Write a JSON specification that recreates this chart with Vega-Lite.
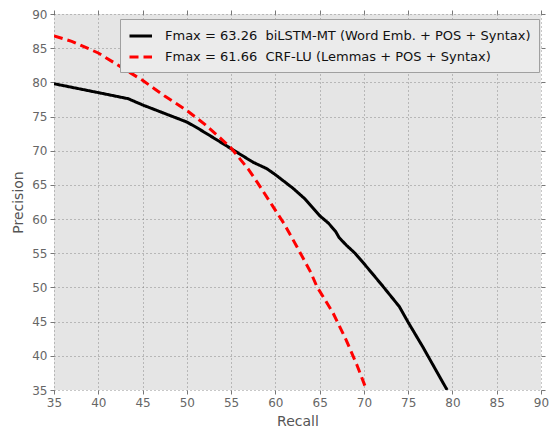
{
  "$schema": "https://vega.github.io/schema/vega-lite/v6.json",
  "width": 487,
  "height": 376,
  "autosize": "none",
  "padding": {"left": 54, "top": 14, "right": 10, "bottom": 38},
  "background": "white",
  "config": {
    "font": "DejaVu Sans",
    "view": {"fill": "#e5e5e5", "stroke": null},
    "axis": {
      "domain": false,
      "ticks": true,
      "tickColor": "#555555",
      "tickSize": 4,
      "tickWidth": 0.8,
      "labelColor": "#666666",
      "labelFontSize": 12,
      "labelFont": "DejaVu Sans",
      "titleColor": "#555555",
      "titleFontSize": 14,
      "titleFontWeight": "normal",
      "titleFont": "DejaVu Sans",
      "gridColor": "#666666",
      "gridDash": [1, 3],
      "gridWidth": 0.8,
      "gridOpacity": 0.9
    }
  },
  "data": {
    "values": [
      {"series": "Fmax = 63.26\u00a0\u00a0biLSTM-MT (Word Emb. + POS + Syntax)", "recall": 35.0, "precision": 79.8},
      {"series": "Fmax = 63.26\u00a0\u00a0biLSTM-MT (Word Emb. + POS + Syntax)", "recall": 40.0, "precision": 78.5},
      {"series": "Fmax = 63.26\u00a0\u00a0biLSTM-MT (Word Emb. + POS + Syntax)", "recall": 43.4, "precision": 77.6},
      {"series": "Fmax = 63.26\u00a0\u00a0biLSTM-MT (Word Emb. + POS + Syntax)", "recall": 45.0, "precision": 76.7},
      {"series": "Fmax = 63.26\u00a0\u00a0biLSTM-MT (Word Emb. + POS + Syntax)", "recall": 48.0, "precision": 75.2},
      {"series": "Fmax = 63.26\u00a0\u00a0biLSTM-MT (Word Emb. + POS + Syntax)", "recall": 50.0, "precision": 74.2},
      {"series": "Fmax = 63.26\u00a0\u00a0biLSTM-MT (Word Emb. + POS + Syntax)", "recall": 51.1, "precision": 73.4},
      {"series": "Fmax = 63.26\u00a0\u00a0biLSTM-MT (Word Emb. + POS + Syntax)", "recall": 53.0, "precision": 71.9},
      {"series": "Fmax = 63.26\u00a0\u00a0biLSTM-MT (Word Emb. + POS + Syntax)", "recall": 55.0, "precision": 70.3},
      {"series": "Fmax = 63.26\u00a0\u00a0biLSTM-MT (Word Emb. + POS + Syntax)", "recall": 57.5, "precision": 68.3},
      {"series": "Fmax = 63.26\u00a0\u00a0biLSTM-MT (Word Emb. + POS + Syntax)", "recall": 59.0, "precision": 67.4},
      {"series": "Fmax = 63.26\u00a0\u00a0biLSTM-MT (Word Emb. + POS + Syntax)", "recall": 60.0, "precision": 66.5},
      {"series": "Fmax = 63.26\u00a0\u00a0biLSTM-MT (Word Emb. + POS + Syntax)", "recall": 62.0, "precision": 64.5},
      {"series": "Fmax = 63.26\u00a0\u00a0biLSTM-MT (Word Emb. + POS + Syntax)", "recall": 63.3, "precision": 63.0},
      {"series": "Fmax = 63.26\u00a0\u00a0biLSTM-MT (Word Emb. + POS + Syntax)", "recall": 65.0, "precision": 60.5},
      {"series": "Fmax = 63.26\u00a0\u00a0biLSTM-MT (Word Emb. + POS + Syntax)", "recall": 66.0, "precision": 59.4},
      {"series": "Fmax = 63.26\u00a0\u00a0biLSTM-MT (Word Emb. + POS + Syntax)", "recall": 66.8, "precision": 58.2},
      {"series": "Fmax = 63.26\u00a0\u00a0biLSTM-MT (Word Emb. + POS + Syntax)", "recall": 67.2, "precision": 57.3},
      {"series": "Fmax = 63.26\u00a0\u00a0biLSTM-MT (Word Emb. + POS + Syntax)", "recall": 68.0, "precision": 56.2},
      {"series": "Fmax = 63.26\u00a0\u00a0biLSTM-MT (Word Emb. + POS + Syntax)", "recall": 69.0, "precision": 55.0},
      {"series": "Fmax = 63.26\u00a0\u00a0biLSTM-MT (Word Emb. + POS + Syntax)", "recall": 70.0, "precision": 53.5},
      {"series": "Fmax = 63.26\u00a0\u00a0biLSTM-MT (Word Emb. + POS + Syntax)", "recall": 72.0, "precision": 50.4},
      {"series": "Fmax = 63.26\u00a0\u00a0biLSTM-MT (Word Emb. + POS + Syntax)", "recall": 74.0, "precision": 47.2},
      {"series": "Fmax = 63.26\u00a0\u00a0biLSTM-MT (Word Emb. + POS + Syntax)", "recall": 75.0, "precision": 44.9},
      {"series": "Fmax = 63.26\u00a0\u00a0biLSTM-MT (Word Emb. + POS + Syntax)", "recall": 76.7, "precision": 41.2},
      {"series": "Fmax = 63.26\u00a0\u00a0biLSTM-MT (Word Emb. + POS + Syntax)", "recall": 78.0, "precision": 38.2},
      {"series": "Fmax = 63.26\u00a0\u00a0biLSTM-MT (Word Emb. + POS + Syntax)", "recall": 79.4, "precision": 35.0},
      {"series": "Fmax = 61.66\u00a0\u00a0CRF-LU (Lemmas + POS + Syntax)", "recall": 35.0, "precision": 86.8},
      {"series": "Fmax = 61.66\u00a0\u00a0CRF-LU (Lemmas + POS + Syntax)", "recall": 37.0, "precision": 86.0},
      {"series": "Fmax = 61.66\u00a0\u00a0CRF-LU (Lemmas + POS + Syntax)", "recall": 40.0, "precision": 84.3},
      {"series": "Fmax = 61.66\u00a0\u00a0CRF-LU (Lemmas + POS + Syntax)", "recall": 43.0, "precision": 81.9},
      {"series": "Fmax = 61.66\u00a0\u00a0CRF-LU (Lemmas + POS + Syntax)", "recall": 45.0, "precision": 80.3},
      {"series": "Fmax = 61.66\u00a0\u00a0CRF-LU (Lemmas + POS + Syntax)", "recall": 47.5, "precision": 78.0},
      {"series": "Fmax = 61.66\u00a0\u00a0CRF-LU (Lemmas + POS + Syntax)", "recall": 50.0, "precision": 75.9},
      {"series": "Fmax = 61.66\u00a0\u00a0CRF-LU (Lemmas + POS + Syntax)", "recall": 52.0, "precision": 73.9},
      {"series": "Fmax = 61.66\u00a0\u00a0CRF-LU (Lemmas + POS + Syntax)", "recall": 54.0, "precision": 71.6},
      {"series": "Fmax = 61.66\u00a0\u00a0CRF-LU (Lemmas + POS + Syntax)", "recall": 55.0, "precision": 70.4},
      {"series": "Fmax = 61.66\u00a0\u00a0CRF-LU (Lemmas + POS + Syntax)", "recall": 57.0, "precision": 67.2},
      {"series": "Fmax = 61.66\u00a0\u00a0CRF-LU (Lemmas + POS + Syntax)", "recall": 58.0, "precision": 65.3},
      {"series": "Fmax = 61.66\u00a0\u00a0CRF-LU (Lemmas + POS + Syntax)", "recall": 59.7, "precision": 61.9},
      {"series": "Fmax = 61.66\u00a0\u00a0CRF-LU (Lemmas + POS + Syntax)", "recall": 61.0, "precision": 59.3},
      {"series": "Fmax = 61.66\u00a0\u00a0CRF-LU (Lemmas + POS + Syntax)", "recall": 62.5, "precision": 55.8},
      {"series": "Fmax = 61.66\u00a0\u00a0CRF-LU (Lemmas + POS + Syntax)", "recall": 64.0, "precision": 52.2},
      {"series": "Fmax = 61.66\u00a0\u00a0CRF-LU (Lemmas + POS + Syntax)", "recall": 64.7, "precision": 50.1},
      {"series": "Fmax = 61.66\u00a0\u00a0CRF-LU (Lemmas + POS + Syntax)", "recall": 66.5, "precision": 46.3},
      {"series": "Fmax = 61.66\u00a0\u00a0CRF-LU (Lemmas + POS + Syntax)", "recall": 68.0, "precision": 42.3},
      {"series": "Fmax = 61.66\u00a0\u00a0CRF-LU (Lemmas + POS + Syntax)", "recall": 69.2, "precision": 38.7},
      {"series": "Fmax = 61.66\u00a0\u00a0CRF-LU (Lemmas + POS + Syntax)", "recall": 70.3, "precision": 35.0}
    ]
  },
  "layer": [
    {
      "mark": {"type": "line", "strokeWidth": 3, "clip": true},
      "encoding": {
        "x": {
          "field": "recall", "type": "quantitative", "title": "Recall",
          "scale": {"domain": [35, 90], "nice": false, "zero": false},
          "axis": {"values": [35, 40, 45, 50, 55, 60, 65, 70, 75, 80, 85, 90], "labelPadding": 3, "titlePadding": 6, "labelFlush": false}
        },
        "y": {
          "field": "precision", "type": "quantitative", "title": "Precision",
          "scale": {"domain": [35, 90], "nice": false, "zero": false},
          "axis": {"values": [35, 40, 45, 50, 55, 60, 65, 70, 75, 80, 85, 90], "labelPadding": 3, "titlePadding": 6, "labelFlush": false}
        },
        "color": {
          "field": "series", "type": "nominal", "title": null,
          "scale": {
            "domain": ["Fmax = 63.26\u00a0\u00a0biLSTM-MT (Word Emb. + POS + Syntax)", "Fmax = 61.66\u00a0\u00a0CRF-LU (Lemmas + POS + Syntax)"],
            "range": ["#000000", "#ff0000"]
          },
          "legend": {
            "orient": "none",
            "legendX": 66,
            "legendY": 5,
            "fillColor": "#ebebeb",
            "strokeColor": "#a0a0a0",
            "padding": 8,
            "symbolType": "M-1,0H2",
            "symbolSize": 225,
            "symbolStrokeWidth": 3,
            "labelFontSize": 13,
            "labelColor": "#111111",
            "labelFont": "DejaVu Sans",
            "labelLimit": 0,
            "labelOffset": 19,
            "rowPadding": 5
          }
        },
        "strokeDash": {
          "field": "series", "type": "nominal", "title": null,
          "scale": {
            "domain": ["Fmax = 63.26\u00a0\u00a0biLSTM-MT (Word Emb. + POS + Syntax)", "Fmax = 61.66\u00a0\u00a0CRF-LU (Lemmas + POS + Syntax)"],
            "range": [[1, 0], [9, 5]]
          }
        }
      }
    },
    {
      "mark": {"type": "line", "opacity": 0},
      "encoding": {
        "x": {
          "field": "recall", "type": "quantitative",
          "axis": {"orient": "top", "labels": false, "title": null, "grid": false, "values": [35, 40, 45, 50, 55, 60, 65, 70, 75, 80, 85, 90]}
        },
        "y": {
          "field": "precision", "type": "quantitative",
          "axis": {"orient": "right", "labels": false, "title": null, "grid": false, "values": [35, 40, 45, 50, 55, 60, 65, 70, 75, 80, 85, 90]}
        },
        "detail": {"field": "series"}
      }
    }
  ],
  "resolve": {"axis": {"x": "independent", "y": "independent"}}
}
